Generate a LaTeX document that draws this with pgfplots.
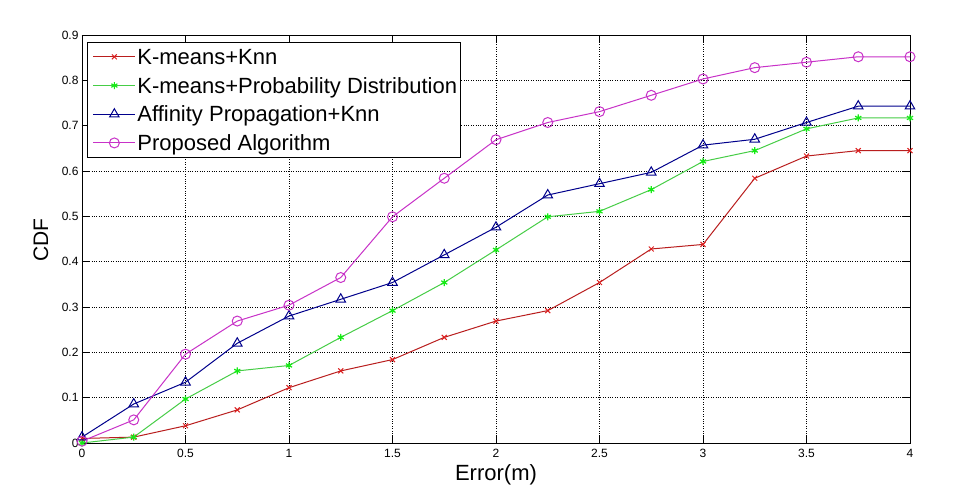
\documentclass[border=0pt]{standalone}
\usepackage{fontspec}
\setmainfont{Liberation Sans}
\usepackage{pgfplots}
\pgfplotsset{compat=1.18}
\definecolor{cred}{RGB}{185,30,30}
\definecolor{credm}{RGB}{220,30,30}
\definecolor{cgreenl}{RGB}{70,205,70}
\definecolor{cgreenm}{RGB}{20,235,20}
\definecolor{cblue}{RGB}{0,0,140}
\definecolor{cmag}{RGB}{200,50,200}
\begin{document}
\begin{tikzpicture}
\path[use as bounding box, fill=white] (-82pt,-55pt) rectangle (898pt,443pt);
\begin{axis}[
  at={(0pt,0pt)}, anchor=south west,
  scale only axis, width=828pt, height=408pt,
  xmin=0, xmax=4, ymin=0, ymax=0.9,
  xtick={0,0.5,1,1.5,2,2.5,3,3.5,4},
  xticklabels={0,0.5,1,1.5,2,2.5,3,3.5,4},
  ytick={0,0.1,0.2,0.3,0.4,0.5,0.6,0.7,0.8,0.9},
  yticklabels={0,0.1,0.2,0.3,0.4,0.5,0.6,0.7,0.8,0.9},
  /pgf/number format/assume math mode=true,
  grid=major,
  major grid style={black, dotted, line width=0.6pt},
  tick align=inside, tick pos=both, major tick length=8pt,
  tick style={black, line width=0.6pt},
  axis line style={black, line width=0.8pt},
  ticklabel style={font=\fontsize{12}{14}\selectfont},
  xticklabel style={yshift=-3pt},
  xlabel={Error(m)}, ylabel={CDF},
  xlabel style={at={(axis description cs:0.5,-0.078)}, anchor=center, font=\fontsize{22}{26}\selectfont},
  ylabel style={at={(axis description cs:-0.0495,0.497)}, anchor=center, font=\fontsize{21}{25}\selectfont},
  legend style={at={(axis description cs:0.006,0.983)}, anchor=north west, draw=black, line width=0.8pt,
    font=\fontsize{22}{26}\selectfont, inner sep=1.5pt, row sep=2.7pt,
    nodes={text height=19pt, text depth=4pt, inner sep=1.5pt}},
  legend cell align=left,
  legend image code/.code={\path (-4pt,0pt); \draw[mark repeat=2,mark phase=2] plot coordinates {(0pt,0pt) (21pt,0pt) (42pt,0pt)};},
]
\addplot[cred, line width=1pt, mark=x, mark size=3.5pt, mark options={solid, credm}] coordinates {
(0,0.010) (0.25,0.013) (0.5,0.038) (0.75,0.073) (1,0.122) (1.25,0.159) (1.5,0.184) (1.75,0.233) (2,0.269) (2.25,0.292) (2.5,0.354) (2.75,0.428) (3,0.438) (3.25,0.584) (3.5,0.633) (3.75,0.645) (4,0.645)};
\addlegendentry{K-means+Knn}
\addplot[cgreenl, line width=1pt, mark=asterisk, mark size=3.5pt, mark options={solid, cgreenm, line width=1.2pt}] coordinates {
(0,0.000) (0.25,0.013) (0.5,0.097) (0.75,0.159) (1,0.171) (1.25,0.233) (1.5,0.292) (1.75,0.354) (2,0.426) (2.25,0.499) (2.5,0.511) (2.75,0.559) (3,0.621) (3.25,0.645) (3.5,0.693) (3.75,0.717) (4,0.717)};
\addlegendentry{K-means+Probability Distribution}
\addplot[cblue, line width=1pt, mark=triangle, mark size=5.5pt, mark options={solid}] coordinates {
(0,0.013) (0.25,0.086) (0.5,0.134) (0.75,0.220) (1,0.280) (1.25,0.317) (1.5,0.354) (1.75,0.415) (2,0.476) (2.25,0.547) (2.5,0.572) (2.75,0.597) (3,0.657) (3.25,0.670) (3.5,0.707) (3.75,0.743) (4,0.743)};
\addlegendentry{Affinity Propagation+Knn}
\addplot[cmag, line width=1pt, mark=o, mark size=5pt, mark options={solid}] coordinates {
(0,0.004) (0.25,0.051) (0.5,0.196) (0.75,0.269) (1,0.304) (1.25,0.365) (1.5,0.499) (1.75,0.584) (2,0.669) (2.25,0.707) (2.5,0.731) (2.75,0.767) (3,0.803) (3.25,0.828) (3.5,0.840) (3.75,0.852) (4,0.852)};
\addlegendentry{Proposed Algorithm}
\end{axis}
\end{tikzpicture}
\end{document}
